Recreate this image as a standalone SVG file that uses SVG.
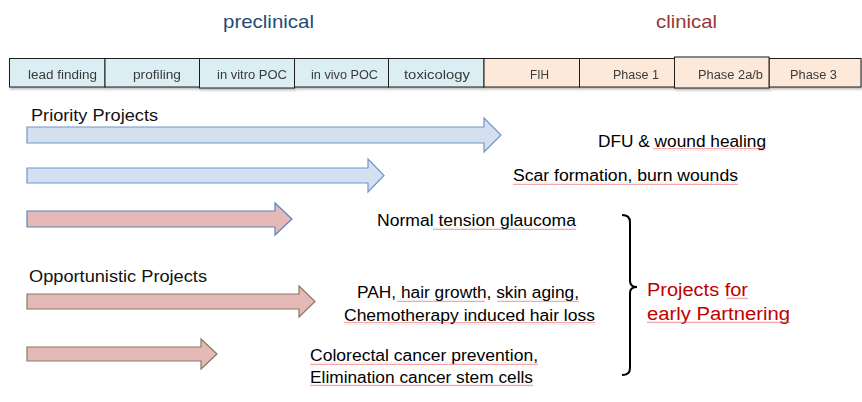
<svg xmlns="http://www.w3.org/2000/svg" width="862" height="402" viewBox="0 0 862 402">
<style>
.bg{fill:#ffffff}
.pre{fill:#DBEEF4;stroke:#1a1a1a;stroke-width:1}
.cli{fill:#FDE9D9;stroke:#1a1a1a;stroke-width:1}
.ht{font-family:"Liberation Sans",Arial,sans-serif;font-size:12.5px;fill:#3a3a3a}
.lbl{font-family:"Liberation Sans",Arial,sans-serif;font-size:16px;fill:#000000}
.grp{font-family:"Liberation Sans",Arial,sans-serif;font-size:16px;fill:#111111}
.red{font-family:"Liberation Sans",Arial,sans-serif;font-size:18px;fill:#C00000}
.phase{font-family:"Liberation Sans",Arial,sans-serif;font-size:19px}
.ab{fill:#D4E0EF;stroke:#6F95C6;stroke-width:1.2}
.ap1{fill:#E5B9B8;stroke:#5B84BC;stroke-width:1.2}
.ap{fill:#E5B9B8;stroke:#8A7A5A;stroke-width:1.2}
.sq{fill:url(#squig)}
</style>
<defs>
<filter id="sh" x="-5%" y="-20%" width="110%" height="160%">
<feDropShadow dx="1" dy="2" stdDeviation="1.2" flood-color="#000" flood-opacity="0.25"/>
</filter>
<pattern id="squig" width="3" height="3" patternUnits="userSpaceOnUse">
<path d="M0,2.2 L0.75,0.8 L1.5,2.2 L2.25,0.8 L3,2.2" fill="none" stroke="#E04040" stroke-width="0.55" stroke-opacity="0.75"/>
</pattern>
</defs>
<rect class="bg" x="0" y="0" width="862" height="402"/>

<g id="phase-labels">
<text class="phase" x="223" y="28" textLength="91" lengthAdjust="spacingAndGlyphs" fill="#244A78">preclinical</text>
<text class="phase" x="656" y="28" textLength="61" lengthAdjust="spacingAndGlyphs" fill="#953735">clinical</text>
</g>

<g id="header" filter="url(#sh)">
<g id="lead-finding"><rect class="pre" x="9.5" y="58.5" width="95.5" height="28.5"/><text class="ht" x="28" y="79" textLength="69" lengthAdjust="spacingAndGlyphs">lead finding</text></g>
<g id="profiling"><rect class="pre" x="105" y="58.5" width="95" height="28.5"/><text class="ht" x="133" y="79" textLength="48" lengthAdjust="spacingAndGlyphs">profiling</text></g>
<g id="in-vivo-poc"><rect class="pre" x="294.5" y="58.5" width="94" height="28.5"/><text class="ht" x="311" y="79" textLength="67" lengthAdjust="spacingAndGlyphs">in vivo POC</text></g>
<g id="in-vitro-poc"><rect class="pre" x="199.5" y="58.5" width="95" height="29.5"/><text class="ht" x="217" y="79" textLength="70" lengthAdjust="spacingAndGlyphs">in vitro POC</text></g>
<g id="toxicology"><rect class="pre" x="388.5" y="58.5" width="95.5" height="28.5"/><text class="ht" x="404" y="79" textLength="66" lengthAdjust="spacingAndGlyphs" style="font-size:13.5px">toxicology</text></g>
<g id="fih"><rect class="cli" x="484" y="58.5" width="95.5" height="28.5"/><text class="ht" x="530" y="79" textLength="19" lengthAdjust="spacingAndGlyphs">FIH</text></g>
<g id="phase-1"><rect class="cli" x="579.5" y="58.5" width="95" height="28.5"/><text class="ht" x="613" y="79" textLength="46" lengthAdjust="spacingAndGlyphs">Phase 1</text></g>
<g id="phase-3"><rect class="cli" x="769" y="58.5" width="92" height="28.5"/><text class="ht" x="790" y="79" textLength="47" lengthAdjust="spacingAndGlyphs">Phase 3</text></g>
<g id="phase-2ab"><rect class="cli" x="674.5" y="57" width="94.5" height="31"/><text class="ht" x="698" y="79" textLength="65" lengthAdjust="spacingAndGlyphs">Phase 2a/b</text></g>
</g>

<g id="group-labels">
<text class="grp" x="31" y="121" textLength="127" lengthAdjust="spacingAndGlyphs">Priority Projects</text>
<text class="grp" x="29" y="282" textLength="178" lengthAdjust="spacingAndGlyphs">Opportunistic Projects</text>
</g>

<g id="connectors">
<polygon id="arrow-dfu" class="ab" points="27,127 484,127 484,118 501,135 484,152 484,143 27,143"/>
<polygon id="arrow-scar" class="ab" points="27,168 368,168 368,159 384,175.5 368,192 368,183 27,183"/>
<polygon id="arrow-glaucoma" class="ap1" points="27,211 275,211 275,203 292,219 275,235 275,227 27,227"/>
<polygon id="arrow-pah" class="ap" points="27,294 299,294 299,286 315,301.5 299,317 299,309 27,309"/>
<polygon id="arrow-colorectal" class="ap" points="27,347 201,347 201,339 217,354 201,369 201,361 27,361"/>
<path id="brace" d="M622,215 Q630,215 630,222 L630,281 Q630,287 637,287 Q630,287 630,293 L630,368 Q630,375 622,375" fill="none" stroke="#000" stroke-width="2"/>
</g>

<g id="project-labels">
<g id="dfu"><text class="lbl" x="598" y="147" textLength="168" lengthAdjust="spacingAndGlyphs">DFU &amp; wound healing</text><rect class="sq" x="653" y="148" width="113" height="3"/></g>
<g id="scar"><text class="lbl" x="513" y="181" textLength="225" lengthAdjust="spacingAndGlyphs">Scar formation, burn wounds</text><rect class="sq" x="513" y="182" width="225" height="3"/></g>
<g id="glaucoma"><text class="lbl" x="377" y="226" textLength="199" lengthAdjust="spacingAndGlyphs">Normal tension glaucoma</text><rect class="sq" x="433" y="227" width="143" height="3"/></g>
<g id="pah"><text class="lbl" x="357" y="298" textLength="222" lengthAdjust="spacingAndGlyphs">PAH, hair growth, skin aging,</text><text class="lbl" x="344" y="321" textLength="251" lengthAdjust="spacingAndGlyphs">Chemotherapy induced hair loss</text><rect class="sq" x="397" y="299" width="88" height="3"/><rect class="sq" x="497" y="299" width="82" height="3"/><rect class="sq" x="344" y="322" width="251" height="3"/></g>
<g id="colorectal"><text class="lbl" x="310" y="361" textLength="228" lengthAdjust="spacingAndGlyphs">Colorectal cancer prevention,</text><text class="lbl" x="310" y="383" textLength="223" lengthAdjust="spacingAndGlyphs">Elimination cancer stem cells</text><rect class="sq" x="310" y="362" width="228" height="3"/><rect class="sq" x="310" y="384" width="223" height="3"/></g>
<g id="partnering"><text class="red" x="647" y="296" textLength="101" lengthAdjust="spacingAndGlyphs">Projects for</text><text class="red" x="647" y="320" textLength="143" lengthAdjust="spacingAndGlyphs">early Partnering</text><rect class="sq" x="727" y="297" width="21" height="3"/><rect class="sq" x="647" y="321" width="143" height="3"/></g>
</g>
</svg>
